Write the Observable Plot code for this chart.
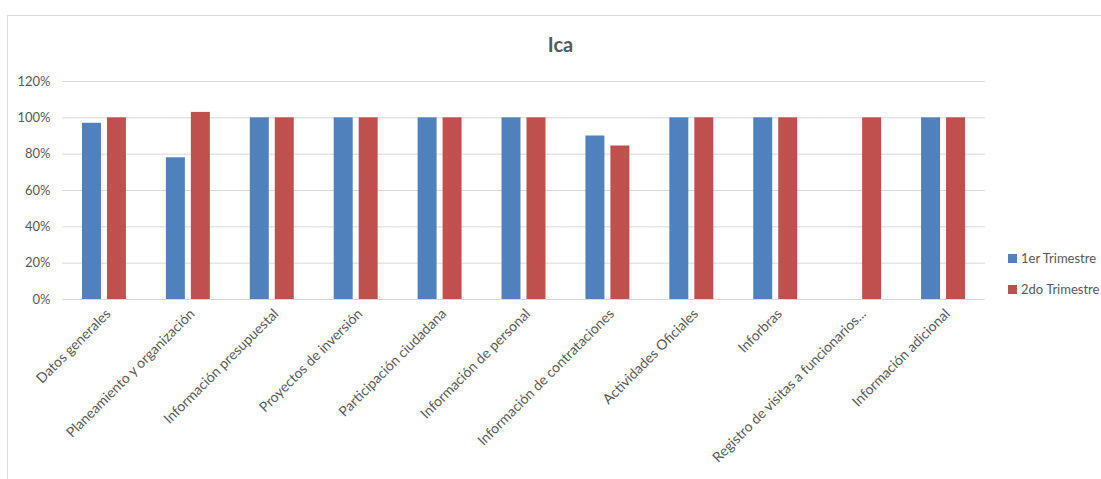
<!DOCTYPE html>
<html><head><meta charset="utf-8">
<script src="https://cdn.jsdelivr.net/npm/d3@7"></script>
<script src="https://cdn.jsdelivr.net/npm/@observablehq/plot@0.6"></script>
<style>
body{margin:0;overflow:hidden;background:#fff;font-family:Lato,"Open Sans",sans-serif;}
#wrap{position:relative;width:1101px;height:479px;}
#frame{position:absolute;left:7px;top:15px;width:1200px;height:500px;border:1px solid #d9d9d9;box-sizing:border-box;}
#title{position:absolute;left:0;width:1121px;top:32px;text-align:center;font-size:20px;font-weight:bold;color:#595959;}
#chart{position:absolute;left:0;top:0;}
.leg{position:absolute;left:1008px;font-size:13px;color:#595959;white-space:nowrap;}
.leg span{display:inline-block;width:9px;height:9px;margin-right:4px;vertical-align:0px;}
</style></head>
<body><div id="wrap"><div id="frame"></div><div id="title">Ica</div><div id="chart"></div>
<div class="leg" style="top:250px"><span style="background:#4F81BD"></span>1er Trimestre</div>
<div class="leg" style="top:281px"><span style="background:#C0504D"></span>2do Trimestre</div>
</div>
<script>
const categories = ["Datos generales","Planeamiento y organización","Información presupuestal","Proyectos de inversión","Participación ciudadana","Información de personal","Información de contrataciones","Actividades Oficiales","Inforbras","Registro de visitas a funcionarios...","Información adicional"];
const seriesNames = ["1er Trimestre","2do Trimestre"];
const trim1 = [0.97,0.78,1,1,1,1,0.90,1,1,null,1];
const trim2 = [1,1.03,1,1,1,1,0.845,1,1,1,1];
const colors = ["#4F81BD","#C0504D"];
const yTicks = [0,0.2,0.4,0.6,0.8,1.0,1.2];

const data = [];
categories.forEach((c,i)=>{
  if (trim1[i]!=null) data.push({cat:c, s:seriesNames[0], v:trim1[i]});
  if (trim2[i]!=null) data.push({cat:c, s:seriesNames[1], v:trim2[i]});
});

const chart = Plot.plot({
  width:1101, height:479,
  marginLeft:62, marginRight:116, marginTop:81, marginBottom:180,
  style:{fontFamily:"Lato, 'Open Sans', sans-serif", fontSize:"13px", color:"#595959", background:"transparent"},
  fx:{domain:categories, padding:0, round:false, label:null},
  x:{domain:seriesNames, paddingInner:0.24, paddingOuter:0.8, round:false, axis:null},
  y:{domain:[0,1.2], label:null},
  color:{domain:seriesNames, range:colors},
  marks:[
    Plot.gridY(yTicks,{stroke:"#d9d9d9", strokeOpacity:1}),
    Plot.axisY(yTicks,{tickFormat:d3.format(".0%"), tickSize:0, tickPadding:12, label:null, fontSize:13}),
    Plot.axisFx({anchor:"bottom", tickRotate:-45, tickSize:0, tickPadding:12, dx:4, label:null, fontSize:14}),
    Plot.barY(data,{fx:"cat", x:"s", y:"v", fill:"s"})
  ]
});
document.getElementById("chart").appendChild(chart);
</script></body></html>
